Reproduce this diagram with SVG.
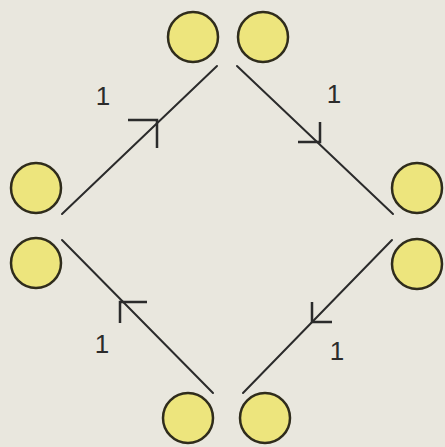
<svg xmlns="http://www.w3.org/2000/svg" width="445" height="447" viewBox="0 0 445 447">
<style>
.n{fill:#ede57d;stroke:#2f2c1c;stroke-width:2.5}
.e{fill:none;stroke:#2b2b2b;stroke-width:2;stroke-linecap:round}
.a{fill:none;stroke:#2b2b2b;stroke-width:2.5;stroke-linecap:butt;stroke-linejoin:miter}
.t{font-family:"Liberation Sans",Arial,sans-serif;font-size:26px;fill:#2b2b2b;text-anchor:middle}
</style>
<rect width="445" height="447" fill="#e9e7de"/>
<g id="connectors">
<line class="e" x1="62" y1="214" x2="217" y2="66"/>
<line class="e" x1="237" y1="66" x2="393" y2="214"/>
<line class="e" x1="392" y1="240" x2="243" y2="393"/>
<line class="e" x1="62" y1="240" x2="213" y2="393"/>
<path class="a" d="M128,120 L157,120 L157,148"/>
<path class="a" d="M320,122 L320,142 L298,142"/>
<path class="a" d="M147,302 L120,302 L120,323"/>
<path class="a" d="M312,302 L312,322 L332,322"/>
<text class="t" x="103" y="105">1</text>
<text class="t" x="334" y="103">1</text>
<text class="t" x="102" y="353">1</text>
<text class="t" x="337" y="360">1</text>
</g>
<g id="top-left"><circle class="n" cx="193" cy="37" r="25"/></g>
<g id="top-right"><circle class="n" cx="263" cy="37" r="25"/></g>
<g id="left-upper"><circle class="n" cx="36" cy="188" r="25"/></g>
<g id="left-lower"><circle class="n" cx="36" cy="263" r="25"/></g>
<g id="right-upper"><circle class="n" cx="417" cy="188" r="25"/></g>
<g id="right-lower"><circle class="n" cx="417" cy="264" r="25"/></g>
<g id="bottom-left"><circle class="n" cx="188" cy="418" r="25"/></g>
<g id="bottom-right"><circle class="n" cx="265" cy="418" r="25"/></g>
</svg>
